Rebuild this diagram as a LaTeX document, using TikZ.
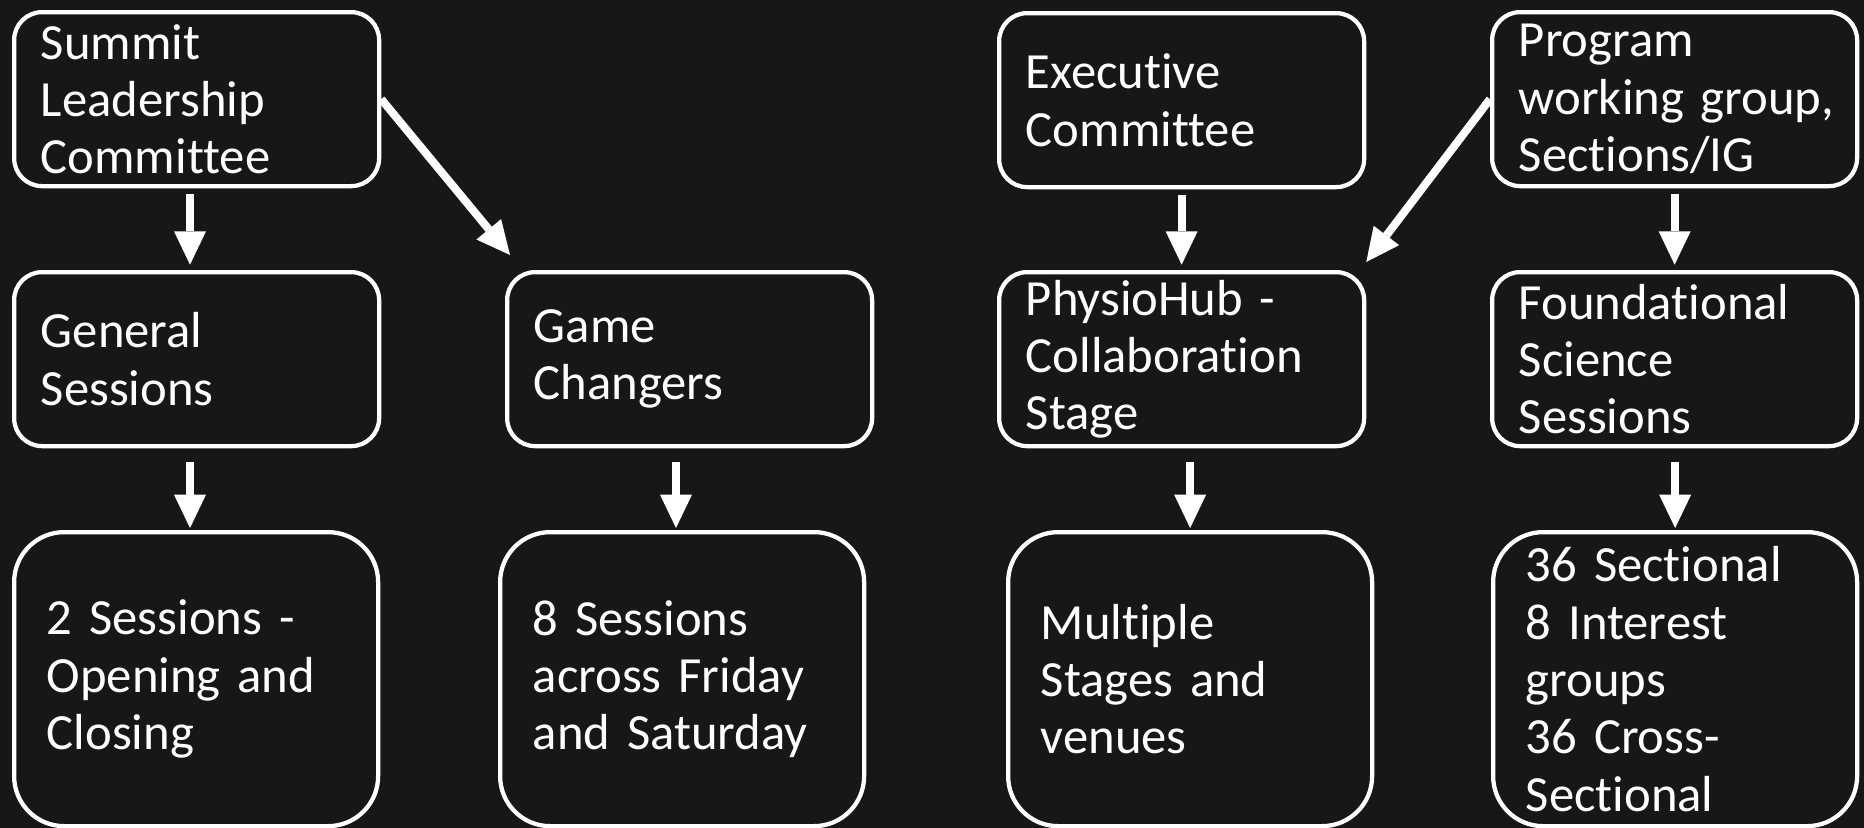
\documentclass[tikz,border=0pt]{standalone}
\usepackage{fontspec}
\setmainfont{Carlito}[Ligatures=NoCommon]
\usetikzlibrary{arrows.meta,calc}
\definecolor{bg}{RGB}{22,24,23}
\newcommand\myboxfont{\fontsize{38pt}{43pt}\selectfont}
\begin{document}
\begin{tikzpicture}[x=0.75pt,y=-0.75pt,
  boxbase/.style={draw=white, line width=3.2pt, fill=bg, text=white, anchor=north west,
    align=left, inner ysep=0pt, font=\myboxfont},
  topbox/.style={boxbase, rounded corners=21pt, minimum width=273.75pt, minimum height=130.5pt,
    inner xsep=20pt, text width=233.75pt},
  botbox/.style={boxbase, rounded corners=37.5pt, minimum width=273pt, minimum height=220.5pt,
    inner xsep=24.5pt, text width=224pt},
  arr/.style={draw=white, line width=6pt, -{Triangle[width=24pt,length=25pt,line width=0pt]}}
]
\useasboundingbox (0,0) rectangle (1864,828);
\fill[bg] (0,0) rectangle (1864,828);

% row 1
\node[topbox] (sum)  at (12,10)   {Summit\\Leadership\\Committee};
\node[topbox] (exe)  at (997,11)  {Executive\\Committee};
\node[topbox] (prog) at (1490,10) {Program\\working~group,\\Sections/IG};
% row 2
\node[topbox] (gen)   at (12,270)   {General\\Sessions};
\node[topbox] (game)  at (505,270)  {Game\\Changers};
\node[topbox] (phy)   at (997,270)  {PhysioHub -\\Collaboration\\Stage};
\node[topbox] (found) at (1490,270) {Foundational\\Science\\Sessions};
% row 3
\node[botbox] (b1) at (12,530)   {2 Sessions -\\Opening and\\Closing};
\node[botbox] (b2) at (498,530)  {8 Sessions\\across Friday\\and Saturday};
\node[botbox] (b3) at (1006,530) {Multiple\\Stages and\\venues};
\node[botbox] (b4) at (1491,530) {36 Sectional\\8 Interest\\groups\\36 Cross-\\Sectional};

% arrows row1 -> row2
\draw[arr, shorten <=4pt, shorten >=4pt] (sum.south -| 190,0) -- (gen.north -| 190,0);
\draw[arr, shorten <=4pt, shorten >=4pt] (exe.south) -- (phy.north);
\draw[arr, shorten <=4pt, shorten >=4pt] (prog.south) -- (found.north);
% diagonal arrows
\draw[arr] (sum.east) -- ($(game.north west)+(5,-15)$);
\draw[arr] (prog.west) -- ($(phy.north east)+(0,-8)$);
% arrows row2 -> row3
\draw[arr, shorten <=10pt, shorten >=1.5pt] (gen.south -| 190,0) -- (b1.north -| 190,0);
\draw[arr, shorten <=10pt, shorten >=1.5pt] (game.south -| 676,0) -- (b2.north -| 676,0);
\draw[arr, shorten <=10pt, shorten >=1.5pt] (phy.south -| b3.north) -- (b3.north);
\draw[arr, shorten <=10pt, shorten >=1.5pt] (found.south -| b4.north) -- (b4.north);
\end{tikzpicture}
\end{document}
